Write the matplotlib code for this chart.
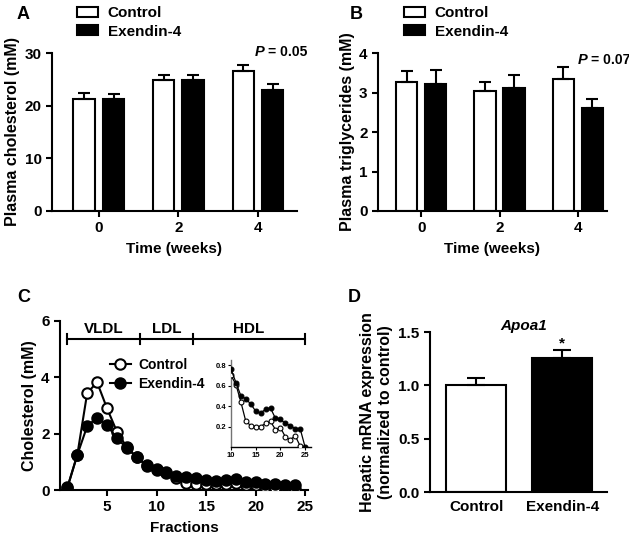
import matplotlib
matplotlib.use("Agg")
import matplotlib.pyplot as plt
import numpy as np

plt.rcParams['font.family'] = ['Liberation Sans', 'DejaVu Sans']
plt.rcParams['font.weight'] = 'bold'
plt.rcParams['axes.labelweight'] = 'bold'
plt.rcParams['font.size'] = 11
plt.rcParams['axes.linewidth'] = 1.5
plt.rcParams['xtick.major.width'] = 1.5
plt.rcParams['ytick.major.width'] = 1.5
plt.rcParams['xtick.major.size'] = 4
plt.rcParams['ytick.major.size'] = 4

# --- data ---
weeks = ['0', '2', '4']
chol_ctrl = [21.3, 24.8, 26.6]
chol_ctrl_err = [1.1, 1.0, 1.2]
chol_ex = [21.3, 24.8, 23.0]
chol_ex_err = [0.9, 1.0, 1.2]

tg_ctrl = [3.26, 3.05, 3.34]
tg_ctrl_err = [0.29, 0.22, 0.31]
tg_ex = [3.22, 3.12, 2.62]
tg_ex_err = [0.34, 0.32, 0.22]

fractions = list(range(1, 25))
prof_ctrl = [0.08, 1.25, 3.45, 3.82, 2.90, 2.07, 1.52, 1.16, 0.86, 0.70, 0.61, 0.44,
             0.25, 0.21, 0.20, 0.20, 0.23, 0.25, 0.17, 0.19, 0.10, 0.07, 0.11, 0.02]
prof_ex = [0.10, 1.25, 2.27, 2.57, 2.31, 1.83, 1.50, 1.16, 0.89, 0.74, 0.63, 0.50,
           0.47, 0.42, 0.35, 0.33, 0.37, 0.38, 0.28, 0.27, 0.23, 0.21, 0.18, 0.18]

inset_fr_ctrl = list(range(10, 25))
inset_ctrl = [0.70, 0.61, 0.44, 0.25, 0.21, 0.20, 0.20, 0.23, 0.25, 0.17, 0.19, 0.10, 0.07, 0.11, 0.01]
inset_fr_ex = list(range(10, 26))
inset_ex = [0.76, 0.63, 0.50, 0.47, 0.42, 0.35, 0.33, 0.37, 0.38, 0.28, 0.27, 0.23, 0.21, 0.18, 0.18, 0.0]

region_edges = [1, 8.3, 13.7, 25]
region_labels = ['VLDL', 'LDL', 'HDL']

apoa1_groups = ['Control', 'Exendin-4']
apoa1 = [1.0, 1.26]
apoa1_err = [0.07, 0.07]

W, H = 629, 541
fig = plt.figure(figsize=(W / 100, H / 100), dpi=100)


def rect(l, r, t, b):
    return [l / W, (H - b) / H, (r - l) / W, (b - t) / H]


def clean(ax):
    ax.spines['top'].set_visible(False)
    ax.spines['right'].set_visible(False)


def bar_panel(ax, ctrl, ctrl_err, ex, ex_err, ylim, yticks, ylabel):
    x = np.arange(len(weeks))
    w = 0.27
    ax.bar(x - 0.185, ctrl, w, color='white', edgecolor='black', lw=1.5, label='Control', zorder=2)
    ax.bar(x + 0.185, ex, w, color='black', edgecolor='black', lw=1.5, label='Exendin-4', zorder=2)
    ax.errorbar(x - 0.185, ctrl, yerr=[np.zeros(3), ctrl_err], fmt='none', ecolor='black',
                elinewidth=1.5, capsize=4, capthick=1.5, zorder=3)
    ax.errorbar(x + 0.185, ex, yerr=[np.zeros(3), ex_err], fmt='none', ecolor='black',
                elinewidth=1.5, capsize=4, capthick=1.5, zorder=3)
    ax.set_xticks(x)
    ax.set_xticklabels(weeks)
    ax.set_ylim(*ylim)
    ax.set_yticks(yticks)
    ax.set_ylabel(ylabel, labelpad=3, fontsize=11.5)
    ax.set_xlabel('Time (weeks)', labelpad=5)
    clean(ax)


# A
axA = fig.add_axes(rect(52, 297, 53, 211))
bar_panel(axA, chol_ctrl, chol_ctrl_err, chol_ex, chol_ex_err, (0, 30), [0, 10, 20, 30],
          'Plasma cholesterol (mM)')
axA.set_xlim(-0.59, 2.49)
axA.text(2.08, 30.2, 'P', style='italic', ha='right', va='center', fontsize=10.5)
axA.text(2.12, 30.2, '= 0.05', ha='left', va='center', fontsize=10)
axA.legend(loc='upper left', bbox_to_anchor=(77 / W, 1 - 6 / H), bbox_transform=fig.transFigure,
           frameon=False, borderpad=0, borderaxespad=0, handlelength=1.35, handleheight=0.65,
           handletextpad=0.65, labelspacing=0.3)

# B
axB = fig.add_axes(rect(378, 607, 53, 211))
bar_panel(axB, tg_ctrl, tg_ctrl_err, tg_ex, tg_ex_err, (0, 4), [0, 1, 2, 3, 4],
          'Plasma triglycerides (mM)')
axB.set_xlim(-0.55, 2.37)
axB.text(2.12, 3.82, 'P', style='italic', ha='right', va='center', fontsize=10.5)
axB.text(2.16, 3.82, '= 0.07', ha='left', va='center', fontsize=10)
axB.legend(loc='upper left', bbox_to_anchor=(404 / W, 1 - 6 / H), bbox_transform=fig.transFigure,
           frameon=False, borderpad=0, borderaxespad=0, handlelength=1.35, handleheight=0.65,
           handletextpad=0.65, labelspacing=0.3)

# C
axC = fig.add_axes(rect(60, 308, 321, 490))
axC.plot(fractions, prof_ctrl, '-o', color='black', mfc='white', mec='black', ms=7.5, mew=1.5,
         lw=1.5, label='Control', zorder=3)
axC.plot(fractions, prof_ex, '-o', color='black', mfc='black', mec='black', ms=7.5, mew=1.5,
         lw=1.5, label='Exendin-4', zorder=4)
axC.set_xlim(0.25, 25.3)
axC.set_ylim(0, 6)
axC.set_yticks([0, 2, 4, 6])
axC.set_xticks([5, 10, 15, 20, 25])
axC.set_ylabel('Cholesterol (mM)', labelpad=3, fontsize=11.5)
axC.set_xlabel('Fractions', labelpad=5)
clean(axC)
by = 5.35
axC.plot([region_edges[0], region_edges[-1]], [by, by], color='black', lw=1.5, clip_on=False)
for e in region_edges:
    axC.plot([e, e], [by - 0.18, by + 0.18], color='black', lw=1.5, clip_on=False)
for i, lab in enumerate(region_labels):
    axC.text((region_edges[i] + region_edges[i + 1]) / 2, by + 0.1, lab, ha='center', va='bottom')
axC.legend(loc='upper left', bbox_to_anchor=(110 / W, 1 - 358 / H), bbox_transform=fig.transFigure,
           frameon=False, borderpad=0, borderaxespad=0, handlelength=1.5, handletextpad=0.55,
           labelspacing=0.35, fontsize=10)

# inset
axI = fig.add_axes(rect(231, 311, 360, 447))
axI.plot(inset_fr_ctrl, inset_ctrl, '-o', color='black', mfc='white', mec='black', ms=3.5,
         mew=0.8, lw=0.9, zorder=3)
axI.plot(inset_fr_ex, inset_ex, '-o', color='black', mfc='black', mec='black', ms=3.5,
         mew=0.8, lw=0.9, zorder=4)
axI.set_xlim(10, 26.2)
axI.set_ylim(0, 0.85)
axI.set_xticks([10, 15, 20, 25])
axI.set_yticks([0.2, 0.4, 0.6, 0.8])
axI.set_yticklabels(['0.2', '0.4', '0.6', '0.8'])
axI.tick_params(labelsize=5.5, length=2, width=0.8, pad=1.5)
clean(axI)
axI.spines['left'].set_linewidth(1.0)
axI.spines['left'].set_color('0.45')
axI.spines['bottom'].set_linewidth(1.0)
axI.patch.set_alpha(0)

# D
axD = fig.add_axes(rect(430, 607, 332, 492))
xd = np.arange(len(apoa1_groups))
axD.bar(xd, apoa1, 0.70, color=['white', 'black'], edgecolor='black', lw=1.5, zorder=2)
axD.errorbar(xd, apoa1, yerr=[np.zeros(2), apoa1_err], fmt='none', ecolor='black',
             elinewidth=1.5, capsize=6.5, capthick=1.5, zorder=3)
axD.set_xlim(-0.535, 1.52)
axD.set_ylim(0, 1.5)
axD.set_yticks([0.0, 0.5, 1.0, 1.5])
axD.set_yticklabels(['0.0', '0.5', '1.0', '1.5'])
axD.set_xticks(xd)
axD.set_xticklabels(apoa1_groups)
axD.tick_params(axis='x', length=0, pad=6)
axD.set_ylabel('Hepatic mRNA expression\n(normalized to control)', labelpad=4, fontsize=11.5)
axD.text(0.55, 1.555, 'Apoa1', style='italic', ha='center', va='center')
axD.text(1, 1.39, '*', ha='center', va='center', fontsize=11)
clean(axD)

for lab, px, py in [('A', 17, 6), ('B', 350, 6), ('C', 17, 289), ('D', 348, 289)]:
    fig.text(px / W, 1 - py / H, lab, fontsize=13, va='top', ha='left')

fig.savefig('out.png', dpi=100)
